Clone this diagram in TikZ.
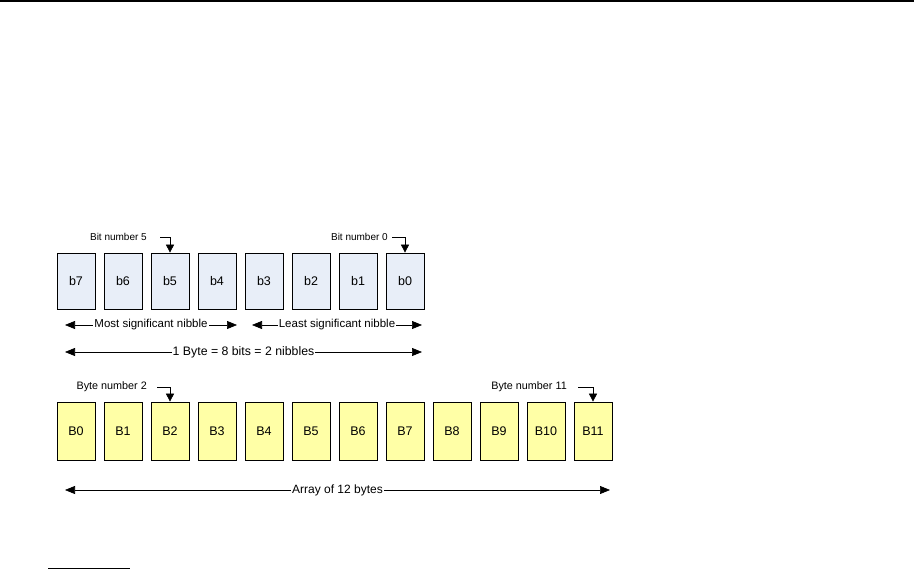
\documentclass[tikz,border=0pt]{standalone}
\usepackage{fontspec}
\setmainfont{Liberation Sans}
\usetikzlibrary{arrows.meta}
\definecolor{bitfill}{HTML}{E8EEF8}
\definecolor{bytefill}{HTML}{FFFFA6}
\newcommand{\lblsize}{\fontsize{10}{12}\selectfont}

\begin{document}
\begin{tikzpicture}[x=1pt,y=-1pt,
  cell/.style={draw,line width=0.7pt,inner sep=0pt,minimum width=38pt,text height=9pt,text depth=0pt,font=\fontsize{12.5}{14}\selectfont},
  bitbox/.style={cell,fill=bitfill,minimum height=56pt},
  bytebox/.style={cell,fill=bytefill,minimum height=58pt},
  pointer/.style={line width=0.7pt,-{Triangle[length=8pt,width=8pt]}},
  dimline/.style={line width=0.7pt,{Triangle[length=10pt,width=8pt]}-{Triangle[length=10pt,width=8pt]}},
  dimlabel/.style={fill=white,inner sep=1pt,font=\fontsize{12.3}{14}\selectfont},
  numlabel/.style={anchor=east,inner sep=0pt,font=\lblsize}]
\useasboundingbox (0,0) rectangle (914,569);
% page rules
\draw[line width=1.3pt] (0,1) -- (914,1);
\draw[line width=1pt] (48,568) -- (130,568);
% bits of one byte
\foreach \n [count=\i from 0] in {7,...,0}{
  \node[bitbox] (b\n) at ({76+47*\i},281) {b\n};}
% bytes of the array
\foreach \n in {0,...,11}{
  \node[bytebox] (B\n) at ({76+47*\n},431) {B\n};}
% bit / byte number pointers
\node[numlabel] (bitlbl5) at (147,237) {Bit number 5};
\node[numlabel] (bitlbl0) at (388,237) {Bit number 0};
\node[numlabel,font=\fontsize{10.8}{12}\selectfont] (bytelbl2) at (147,387) {Byte number 2};
\node[numlabel,font=\fontsize{10.8}{12}\selectfont] (bytelbl11) at (567,387) {Byte number 11};
\draw[pointer] ([xshift=13pt]bitlbl5.east) -| (b5.north);
\draw[pointer] ([xshift=4pt]bitlbl0.east) -| (b0.north);
\draw[pointer] ([xshift=10pt]bytelbl2.east) -| (B2.north);
\draw[pointer] ([xshift=11pt]bytelbl11.east) -| (B11.north);
% dimension arrows
\coordinate (msnL) at (65,325);  \coordinate (msnR) at (237,325);
\coordinate (lsnL) at (252,325); \coordinate (lsnR) at (422,325);
\coordinate (byteL) at (65,352); \coordinate (byteR) at (422,352);
\coordinate (arrL) at (65,490);  \coordinate (arrR) at (610,490);
\draw[dimline] (msnL) -- node[dimlabel,font=\fontsize{11.5}{13}\selectfont] {Most significant nibble} (msnR);
\draw[dimline] (lsnL) -- node[dimlabel,font=\fontsize{11.5}{13}\selectfont] {Least significant nibble} (lsnR);
\draw[dimline] (byteL) -- node[dimlabel] {1 Byte = 8 bits = 2 nibbles} (byteR);
\draw[dimline] (arrL) -- node[dimlabel,font=\fontsize{12}{14}\selectfont] {Array of 12 bytes} (arrR);
\end{tikzpicture}
\end{document}
